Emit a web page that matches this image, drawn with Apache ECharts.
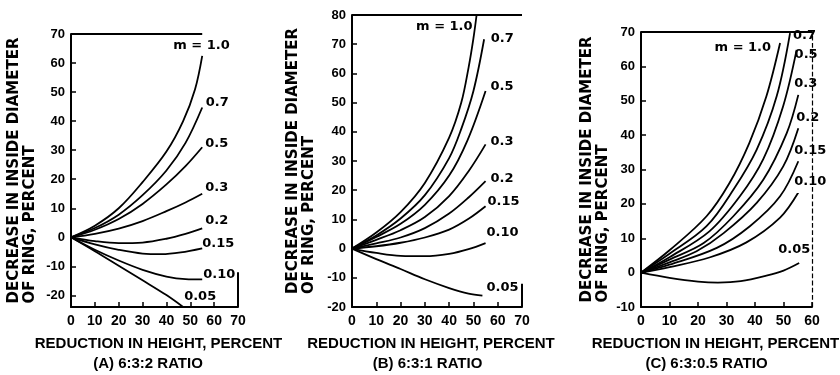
<!DOCTYPE html>
<html>
<head>
<meta charset="utf-8">
<style>
    html, body { margin: 0; padding: 0; background: #fff; }
    #chart { width: 840px; height: 375px; }
</style>
</head>
<body>
<div id="chart"></div>
<script src="https://cdn.jsdelivr.net/npm/echarts@6/dist/echarts.min.js"></script>
<script>
// value of m for each curve, same order in all three panels
var mNames = ['m = 1.0', '0.7', '0.5', '0.3', '0.2', '0.15', '0.10', '0.05'];

// tick labels
var xTicksAB = [0, 10, 20, 30, 40, 50, 60, 70];
var xTicksC = [0, 10, 20, 30, 40, 50, 60];
var yTicksA = [-20, -10, 0, 10, 20, 30, 40, 50, 60, 70];
var yTicksB = [-20, -10, 0, 10, 20, 30, 40, 50, 60, 70, 80];
var yTicksC = [-10, 0, 10, 20, 30, 40, 50, 60, 70];

// [reduction in height %, decrease in inside diameter %]
var curvesA = [
    [[0, 0], [10, 4], [20, 10], [30, 19], [40, 29.5], [47, 40], [52, 51], [55, 62.5]],
    [[0, 0], [10, 3.2], [20, 7.8], [30, 14.5], [40, 23], [48, 32.5], [55, 44.7]],
    [[0, 0], [10, 2.6], [20, 6.3], [30, 11.5], [40, 18.2], [48, 24.5], [55, 31]],
    [[0, 0], [10, 1.2], [20, 3], [30, 5.6], [40, 9], [48, 12], [55, 15]],
    [[0, 0], [10, -1.3], [20, -2], [30, -1.8], [40, -0.5], [48, 1.2], [55, 3.1]],
    [[0, 0], [10, -2.4], [20, -4.3], [30, -5.6], [38, -5.8], [46, -5.2], [55, -3.8]],
    [[0, 0], [10, -4.3], [20, -8], [30, -11.2], [40, -13.5], [48, -14.4], [55, -14.5]],
    [[0, 0], [10, -4.8], [20, -9.8], [30, -14.8], [40, -19.9], [47, -24]]
];
var curvesB = [
    [[0, 0], [10, 5.5], [20, 12.5], [30, 22.5], [40, 38], [45, 50], [48, 62], [50, 72], [51.3, 80]],
    [[0, 0], [10, 4.5], [20, 10.3], [30, 18.3], [40, 31], [45, 41], [50, 54], [54.4, 71.7]],
    [[0, 0], [10, 4], [20, 8.5], [30, 15], [40, 25], [47.5, 37], [55, 54]],
    [[0, 0], [10, 3], [20, 6.3], [30, 10.8], [40, 18], [48, 26.5], [55, 35.7]],
    [[0, 0], [10, 1.8], [20, 3.8], [30, 7], [40, 12], [48, 17.5], [55, 23.1]],
    [[0, 0], [10, 0.8], [20, 2], [30, 3.8], [40, 6.5], [48, 10.2], [55, 14.5]],
    [[0, 0], [10, -1.5], [20, -2.5], [30, -2.6], [40, -1.8], [48, -0.2], [55, 1.9]],
    [[0, 0], [10, -3.6], [20, -7], [30, -10.5], [40, -13.5], [48, -15.4], [53.7, -16.1]]
];
var curvesC = [
    [[0, 0], [10, 6.5], [23, 16.4], [31, 26], [38, 37.7], [44, 51.3], [48.8, 66.8]],
    [[0, 0], [10, 5.5], [23, 13.5], [32.4, 24.1], [40.6, 35.8], [47.6, 51.3], [52.3, 69.7]],
    [[0, 0], [10, 4.5], [24, 12], [34.7, 22.2], [42.9, 33], [49.9, 48.5], [54.6, 64.8]],
    [[0, 0], [10, 3.8], [22, 8.6], [32.4, 16.4], [42.9, 27], [51.1, 40.5], [55.2, 51.7]],
    [[0, 0], [10, 3], [19.5, 6.2], [29, 11.5], [40.6, 20.3], [49.9, 30.9], [55.2, 42]],
    [[0, 0], [10, 2.3], [26.6, 7.2], [38.2, 13.5], [48.8, 22.2], [55.2, 32.4]],
    [[0, 0], [10, 1.6], [24, 4.4], [37, 8.8], [48.8, 16], [55.2, 23.3]],
    [[0, 0], [10, -1.5], [20, -2.6], [27, -2.9], [35, -2.5], [44, -0.9], [50, 0.6], [55.5, 2.8]]
];

var xTitle = 'REDUCTION IN HEIGHT, PERCENT';
var yTitle1 = 'DECREASE IN INSIDE DIAMETER';
var yTitle2 = 'OF RING, PERCENT';
var captions = ['(A) 6:3:2 RATIO', '(B) 6:3:1 RATIO', '(C) 6:3:0.5 RATIO'];

// curve label placement: [dx, dy, align]
var labelPosA = [[-0.7, -10, 'center'], [3.5, -5], [3, -4], [3, -6], [3, -8], [0, -5], [1, -5], [1, -10]];
var labelPosB = [[-4, 12, 'right'], [6.7, -1], [5, -4], [5, -3], [5, -3], [2, -5], [1, -10], [4, -8]];
var labelPosC = [[-9, 5, 'right'], [3, 3], [-2, 5], [-4, -11], [-2, -11], [-4, -11], [-4, -11], [-21, -13]];

var panels = [
    { curves: curvesA, labels: labelPosA, xTicks: xTicksAB, yTicks: yTicksA, xMax: 70, yMin: -24, yMax: 70,
      grid: { left: 71, top: 34, width: 167, height: 273 }, yGap: 33, xShift: [8, -13],
      frame: [[[0, 70], [55, 70], 'solid'], [[70, -24], [70, -12], 'solid']] },
    { curves: curvesB, labels: labelPosB, xTicks: xTicksAB, yTicks: yTicksB, xMax: 70, yMin: -20, yMax: 80,
      grid: { left: 352, top: 15, width: 170, height: 292 }, yGap: 35, xShift: [-12, -19],
      frame: [[[0, 80], [70, 80], 'solid'], [[70, -20], [70, -12], 'solid']] },
    { curves: curvesC, labels: labelPosC, xTicks: xTicksC, yTicks: yTicksC, xMax: 60, yMin: -10, yMax: 70,
      grid: { left: 641, top: 32, width: 171, height: 275 }, yGap: 30, xShift: [-22, -40],
      frame: [[[0, 70], [60, 70], 'solid'], [[60, -10], [60, 70], 'dashed']] }
];

var black = '#000';
var tickFont = { color: black, fontFamily: 'Liberation Sans', fontWeight: 'bold' };

function pad(s) {
    // shift a centered line sideways by padding one side
    return s < 0 ? [0, -2 * s, 0, 0] : [0, 0, 0, 2 * s];
}

var grids = [], xAxes = [], yAxes = [], series = [];

panels.forEach(function (p, i) {
    grids.push({
        left: p.grid.left, top: p.grid.top, width: p.grid.width, height: p.grid.height,
        containLabel: false, outerBoundsMode: 'none'
    });

    xAxes.push({
        gridIndex: i, type: 'value', min: 0, max: p.xMax,
        axisLine: { show: true, onZero: false, lineStyle: { color: black, width: 2 } },
        axisTick: { show: true, inside: true, length: 5, customValues: p.xTicks, lineStyle: { color: black, width: 1.5 } },
        axisLabel: Object.assign({ customValues: p.xTicks, fontSize: 14, margin: 7 }, tickFont),
        splitLine: { show: false },
        name: '{t|' + xTitle + '}\n{c|' + captions[i] + '}',
        nameLocation: 'middle', nameGap: 27, nameMoveOverlap: false,
        nameTextStyle: {
            rich: {
                t: { fontFamily: 'Liberation Sans', fontWeight: 'bold', fontSize: 15, lineHeight: 20, color: black, padding: pad(p.xShift[0] / 2) },
                c: { fontFamily: 'Liberation Sans', fontWeight: 'bold', fontSize: 15, lineHeight: 20, color: black, padding: pad(p.xShift[1] / 2) }
            }
        }
    });

    yAxes.push({
        gridIndex: i, type: 'value', min: p.yMin, max: p.yMax,
        axisLine: { show: true, onZero: false, lineStyle: { color: black, width: 2 } },
        axisTick: { show: true, inside: true, length: 5, customValues: p.yTicks, lineStyle: { color: black, width: 1.5 } },
        axisLabel: Object.assign({ customValues: p.yTicks, fontSize: 13, margin: 6 }, tickFont),
        splitLine: { show: false },
        name: '{l|' + yTitle1 + '}\n{l|' + yTitle2 + '}',
        nameLocation: 'middle', nameRotate: 90, nameGap: p.yGap, nameMoveOverlap: false,
        nameTextStyle: {
            rich: {
                l: { align: 'left', fontFamily: 'DejaVu Sans', fontWeight: 'bold', fontSize: 15, lineHeight: 16, color: black }
            }
        }
    });

    p.curves.forEach(function (pts, j) {
        var lp = p.labels[j];
        var s = {
            type: 'line', xAxisIndex: i, yAxisIndex: i,
            name: mNames[j],
            data: pts,
            smooth: 0.35,
            symbol: 'none',
            silent: true,
            lineStyle: { color: black, width: 1.8 },
            endLabel: {
                show: true, formatter: mNames[j], distance: 0,
                align: lp[2] || 'left', verticalAlign: 'middle', offset: [lp[0], lp[1]],
                color: black, fontFamily: 'DejaVu Sans', fontWeight: 'bold', fontSize: 13
            }
        };
        if (j === 0) {
            // box edges that the original draws (top, and parts of the right side)
            s.markLine = {
                silent: true, symbol: ['none', 'none'], animation: false,
                label: { show: false },
                data: p.frame.map(function (f) {
                    return [
                        { coord: f[0], lineStyle: { color: black, width: f[2] === 'dashed' ? 1.2 : 2, type: f[2] } },
                        { coord: f[1] }
                    ];
                })
            };
        }
        series.push(s);
    });
});

var chart = echarts.init(document.getElementById('chart'));
chart.setOption({
    backgroundColor: '#fff',
    animation: false,
    grid: grids,
    xAxis: xAxes,
    yAxis: yAxes,
    series: series
});
</script>
</body>
</html>
